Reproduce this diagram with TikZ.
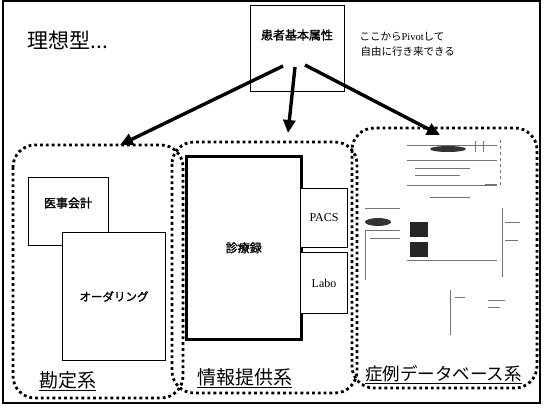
\documentclass[tikz,border=0pt]{standalone}
\usepackage{fontspec}
\setmainfont{Liberation Serif}
\newfontfamily\cjk{Noto Sans CJK JP}
\newfontfamily\cjkb{Noto Sans CJK JP}[FakeBold=1.6]
\usetikzlibrary{arrows.meta}
\begin{document}
\begin{tikzpicture}[x=1pt,y=-1pt,
  region/.style={line width=2.8pt,dash pattern=on 2.8pt off 3pt,rounded corners=22pt},
  sysbox/.style={draw,line width=1pt,fill=white,inner sep=0pt},
  bigarrow/.style={line width=3.4pt,-{Triangle[length=13pt,width=12pt]}},
  lbl/.style={font=\cjk\fontsize{19}{21}\selectfont,inner sep=1pt},
  shot/.style={draw=black!55,line width=0.6pt},
]
\useasboundingbox (0,0) rectangle (544,409);
\fill[white] (0,0) rectangle (544,409);
\draw[line width=1.4pt] (3,1) rectangle (540,403);

% title
\node[font=\cjk\fontsize{21}{23}\selectfont,anchor=west] (title) at (24,40) {理想型...};

% patient box
\node[draw,line width=1.4pt,minimum width=94pt,minimum height=86pt,anchor=north west,inner sep=0pt] (pat) at (250,5) {};
\node[font=\cjkb\fontsize{12}{14}\selectfont] (patt) at (297,35) {患者基本属性};
\node[font=\cjk\fontsize{10.5}{15}\selectfont,align=left,anchor=west] (note) at (356,44) {ここから{\rmfamily Pivot}して\\\kern1pt 自由に行き来できる};

% regions
\draw[region] (13,145) rectangle (183,398);
\draw[region] (172,142) rectangle (357,393);
\draw[region] (352,128) rectangle (537,388);

% left system boxes
\node[sysbox,minimum width=80pt,minimum height=68pt,anchor=north west] (iji) at (28,177) {};
\node[font=\cjkb\fontsize{12}{14}\selectfont] (ijit) at (68,203) {医事会計};
\node[sysbox,minimum width=103pt,minimum height=128pt,anchor=north west,font=\cjkb\fontsize{11.5}{13}\selectfont] (order) at (62,232) {オーダリング};

% middle
\node[sysbox,line width=2.6pt,minimum width=115pt,minimum height=183pt,anchor=north west,font=\cjkb\fontsize{12}{14}\selectfont] (shin) at (185,155) {診療録};
\node[sysbox,minimum width=47pt,minimum height=59pt,anchor=north west,font=\fontsize{12}{14}\selectfont] (pacs) at (300,188) {PACS};
\node[sysbox,minimum width=47pt,minimum height=61pt,anchor=north west,font=\fontsize{12}{14}\selectfont] (labo) at (300,252) {Labo};

% screenshot (faint)
\draw[shot] (407,145) -- (497,145);
\fill[black!80] (448,149) ellipse (18pt and 3pt);
\draw[shot] (475,141) -- (475,152);
\draw[shot] (483,141) -- (483,152);
\draw[shot] (407,160) -- (497,160);
\draw[shot] (415,168) -- (470,168);
\draw[shot] (415,175) -- (460,175);
\draw[shot] (407,185) -- (497,185);
\draw[shot,line width=1.2pt] (485,185) -- (497,185);
\draw[shot,dashed] (500,140) -- (500,185);
\draw[shot] (430,197) -- (470,197);
\draw[shot] (365,208) -- (400,208);
\fill[black!80] (378,222) ellipse (13pt and 4pt);
\draw[shot] (365,230) -- (400,230);
\draw[shot] (365,230) -- (365,280);
\draw[shot] (370,238) -- (400,238);
\fill[black!85] (410,222) rectangle (428,237);
\fill[black!85] (410,242) rectangle (428,257);
\draw[shot] (407,260) -- (497,260);
\draw[shot] (502,208) -- (502,277);
\draw[shot] (505,222) -- (520,222);
\draw[shot] (505,240) -- (518,240);
\draw[shot] (450,290) -- (450,335);
\draw[shot] (488,300) -- (505,300);
\draw[shot] (488,307) -- (500,307);
\draw[shot] (455,297) -- (465,297);

% region labels
\node[lbl,anchor=west] (kan) at (38,381) {\underline{勘定系}};
\node[lbl,anchor=west] (joho) at (196,378) {\underline{情報提供系}};
\node[lbl,font=\cjk\fontsize{17.5}{20}\selectfont,anchor=west] (shorei) at (364,375) {\underline{症例データベース系}};

% arrows
\coordinate (s1) at (283,66);
\coordinate (s2) at (295,67);
\coordinate (s3) at (305,65);
\coordinate (e1) at (120,145);
\coordinate (e2) at (288,133);
\coordinate (e3) at (440,135);
\draw[bigarrow] (s1) -- (e1);
\draw[bigarrow] (s2) -- (e2);
\draw[bigarrow] (s3) -- (e3);
\end{tikzpicture}
\end{document}
